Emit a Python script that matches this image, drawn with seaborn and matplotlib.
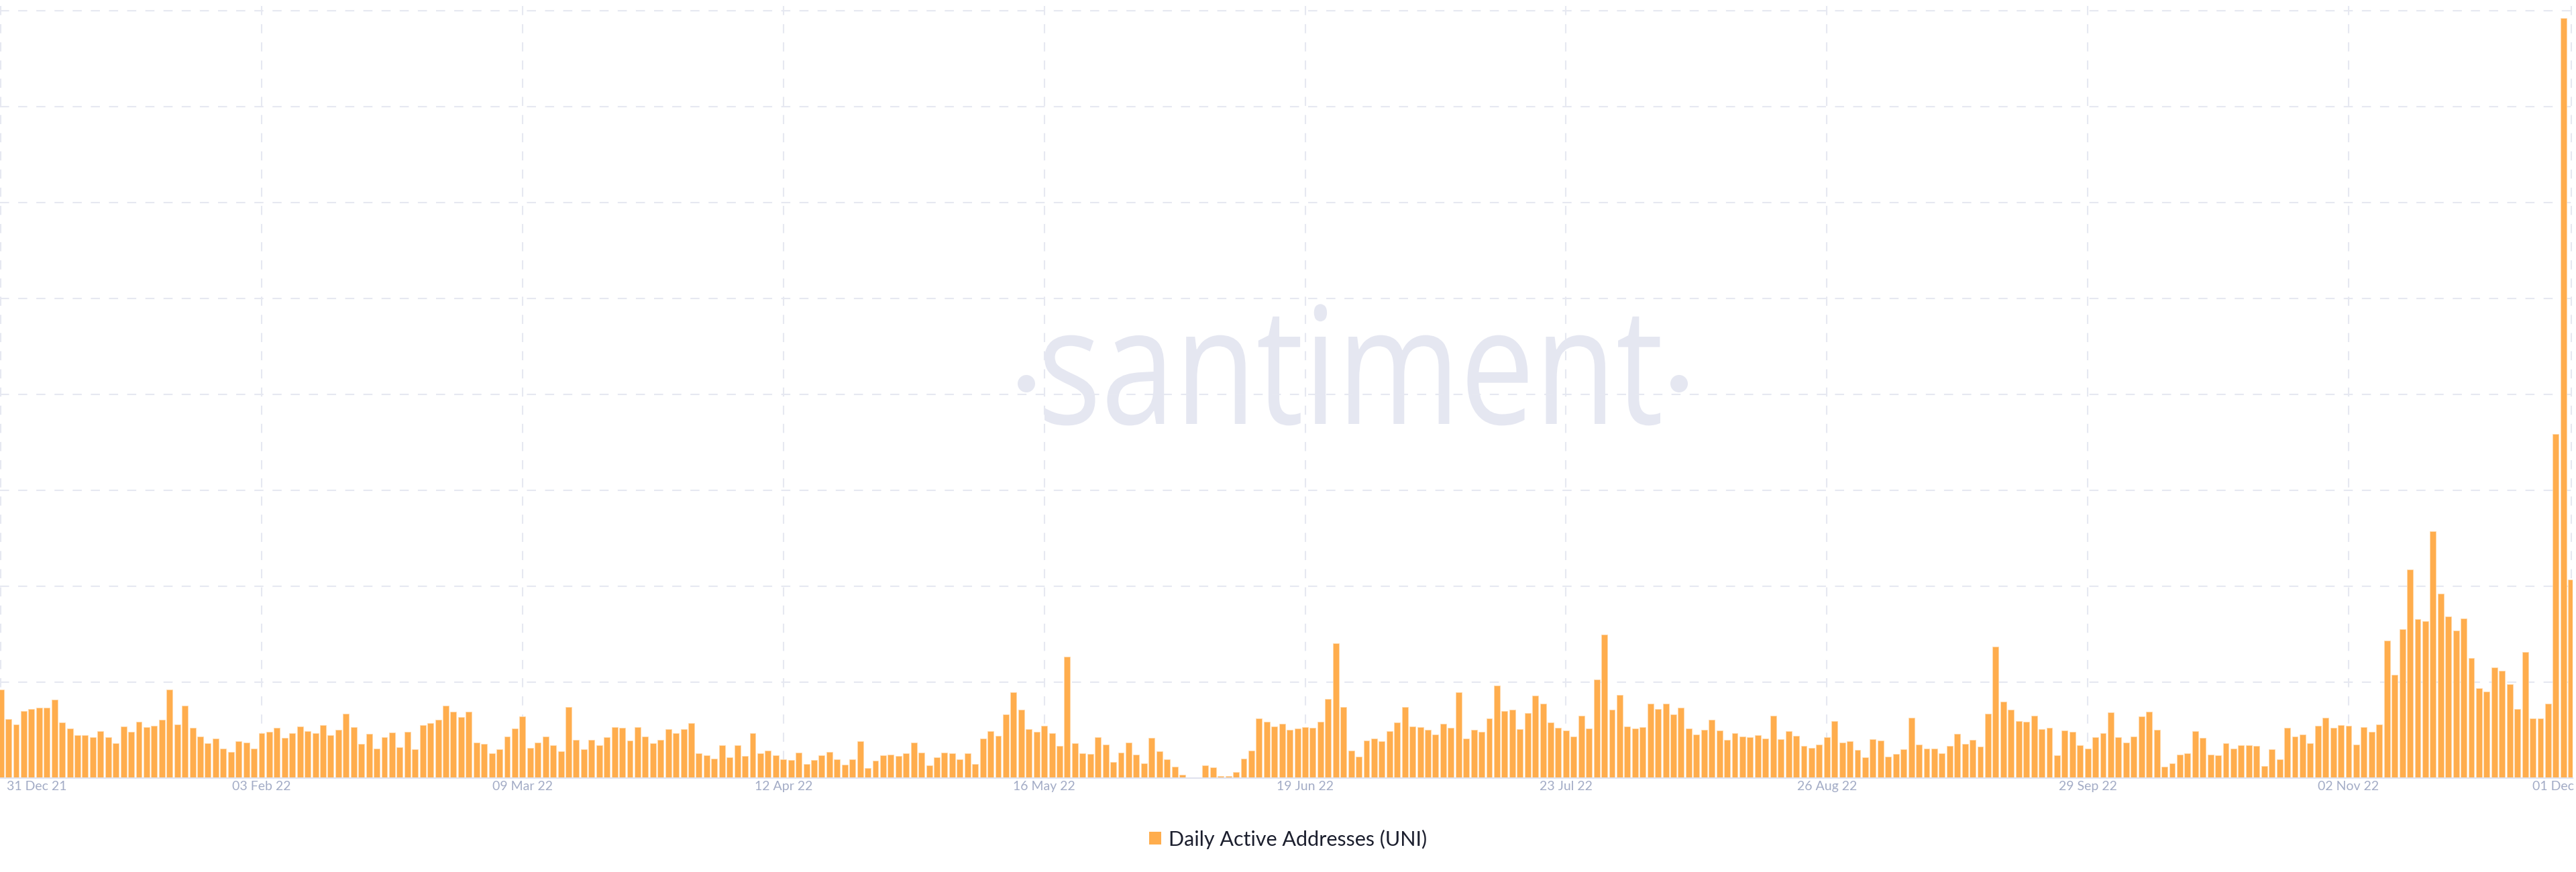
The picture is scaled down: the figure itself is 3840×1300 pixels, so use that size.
import pandas as pd
import numpy as np
import matplotlib
matplotlib.use("Agg")
import matplotlib.pyplot as plt
import matplotlib.transforms as mtransforms
from matplotlib.patches import PathPatch, Ellipse, Patch
from matplotlib.textpath import TextPath
from matplotlib.font_manager import FontProperties
import seaborn as sns

# daily active addresses (same scale throughout, grid step = 428)
start_date = "2021-12-31"
dau_dec21 = [394]
dau_jan22 = [264, 239, 298, 309, 315, 313, 350, 247, 222, 192, 191, 183, 210, 184, 156, 230,
             208, 252, 227, 234, 259, 394, 239, 324, 225, 186, 155, 177, 132, 117, 165]
dau_feb22 = [160, 132, 201, 207, 224, 180, 202, 231, 209, 202, 237, 192, 216, 287, 227, 152,
             197, 133, 184, 203, 137, 206, 128, 237, 244, 259, 322, 296]
dau_mar22 = [273, 296, 159, 153, 111, 129, 186, 221, 276, 136, 159, 186, 147, 121, 317, 170,
             130, 170, 148, 182, 228, 224, 169, 227, 186, 155, 170, 219, 201, 219, 246]
dau_apr22 = [111, 102, 86, 146, 94, 146, 100, 200, 110, 123, 103, 84, 82, 114, 63, 80,
             102, 116, 83, 61, 84, 165, 46, 78, 102, 106, 99, 111, 160, 114]
dau_may22 = [57, 92, 113, 112, 84, 111, 63, 176, 209, 189, 284, 383, 306, 217, 208, 233,
             200, 144, 543, 155, 111, 107, 182, 150, 71, 114, 160, 106, 66, 179, 121]
dau_jun22 = [83, 50, 16, 3, 0, 57, 47, 8, 8, 27, 86, 123, 267, 251, 231, 242,
             215, 221, 228, 224, 252, 353, 602, 317, 124, 96, 168, 178, 165, 210]
dau_jul22 = [249, 318, 230, 228, 216, 195, 242, 224, 384, 176, 216, 207, 266, 413, 299, 305,
             218, 289, 368, 333, 247, 225, 213, 187, 279, 222, 440, 640, 306, 372, 230]
dau_aug22 = [220, 227, 333, 309, 333, 284, 313, 222, 196, 216, 261, 214, 171, 201, 187, 183,
             193, 177, 279, 173, 211, 188, 144, 134, 150, 182, 255, 160, 165, 126, 93]
dau_sep22 = [174, 169, 96, 107, 129, 269, 149, 132, 131, 110, 143, 199, 153, 170, 140, 287,
             588, 341, 306, 255, 250, 279, 219, 224, 101, 212, 208, 146, 132, 183]
dau_oct22 = [200, 294, 182, 158, 186, 276, 297, 216, 52, 65, 105, 111, 211, 181, 106, 103,
             155, 131, 148, 148, 144, 54, 129, 85, 224, 187, 196, 155, 232, 270, 225]
dau_nov22 = [235, 234, 151, 227, 207, 240, 613, 461, 664, 930, 708, 701, 1102, 822, 720, 659,
             712, 536, 402, 386, 495, 478, 418, 308, 562, 266, 265, 332, 1536, 3390]
dau_dec22 = [886]

tick_dates = ["2021-12-31", "2022-02-03", "2022-03-09", "2022-04-12", "2022-05-16", "2022-06-19",
              "2022-07-23", "2022-08-26", "2022-09-29", "2022-11-02", "2022-12-01"]
tick_labels = ["31 Dec 21", "03 Feb 22", "09 Mar 22", "12 Apr 22", "16 May 22", "19 Jun 22",
               "23 Jul 22", "26 Aug 22", "29 Sep 22", "02 Nov 22", "01 Dec"]
legend_label = "Daily Active Addresses (UNI)"

values = (dau_dec21 + dau_jan22 + dau_feb22 + dau_mar22 + dau_apr22 + dau_may22 + dau_jun22
          + dau_jul22 + dau_aug22 + dau_sep22 + dau_oct22 + dau_nov22 + dau_dec22)
dates = pd.date_range(start_date, periods=len(values), freq="D")
df = pd.DataFrame({"date": dates, "dau": values})
df["day"] = (df["date"] - pd.Timestamp(start_date)).dt.days
tick_pos = [(pd.Timestamp(d) - pd.Timestamp(start_date)).days for d in tick_dates]

BAR = "#ffad4d"
GRID = "#e6e8f1"
GRID_STEP = 428

sns.set_style("white")
plt.rcParams["font.family"] = ["Lato", "DejaVu Sans"]

W, H = 3840, 1300
fig = plt.figure(figsize=(W / 100, H / 100), dpi=100, facecolor="white")
ax = fig.add_axes([0, 140 / H, 3835 / W, 1160 / H])
ax.set_facecolor("none")

sns.barplot(data=df, x="day", y="dau", native_scale=True, color=BAR, saturation=1,
            width=0.78, errorbar=None, edgecolor="#ffd9ab", linewidth=0.6, ax=ax, zorder=2)

ax.set_xlim(-0.1, 335.2)
ax.set_ylim(0, 1160 * GRID_STEP / 143)
ax.set_yticks(np.arange(1, 9) * GRID_STEP)
ax.set_xticks(tick_pos, tick_labels)
ax.tick_params(axis="x", length=0, pad=3, labelsize=14, labelcolor="#a3acc6")
ax.tick_params(axis="y", length=0, labelleft=False)
ax.set_xlabel("")
ax.set_ylabel("")
ax.set_axisbelow(True)
ax.grid(True, color=GRID, linewidth=1.5, linestyle=(0, (6.5, 6.5)))
for s in ["top", "right", "left"]:
    ax.spines[s].set_visible(False)
ax.spines["bottom"].set_color("#dfe2ee")
ax.spines["bottom"].set_linewidth(1.5)

# first and last labels are pulled inside the chart edges
labels = ax.get_xticklabels()
labels[0].set_ha("left")
labels[0].set_transform(labels[0].get_transform()
                        + mtransforms.ScaledTranslation(0.09, 0, fig.dpi_scale_trans))
labels[-1].set_ha("right")
labels[-1].set_transform(labels[-1].get_transform()
                         + mtransforms.ScaledTranslation(0.04, 0, fig.dpi_scale_trans))

# santiment watermark
tp = TextPath((0, 0), "santiment", size=100, prop=FontProperties(family="Open Sans"))
ext = tp.get_extents()
sx = 918 / ext.width
sy = 130 / 53.5
wm_tr = (mtransforms.Affine2D().scale(sx, sy).translate(1557 - ext.x0 * sx, H - 632)
         .scale(1 / W, 1 / H) + fig.transFigure)
fig.add_artist(PathPatch(tp, transform=wm_tr, facecolor="#e5e7f1", edgecolor="none", zorder=-1))
for cx in [1530, 2503]:
    fig.add_artist(Ellipse((cx / W, (H - 572) / H), 26 / W, 26 / H, transform=fig.transFigure,
                           facecolor="#e5e7f1", edgecolor="none", zorder=-1))

handle = Patch(facecolor=BAR, edgecolor="none")
fig.legend([handle], [legend_label], loc="center", bbox_to_anchor=(0.5, 1 - 1251 / H),
           frameon=False, fontsize=22, labelcolor="#1c1f2e", handlelength=0.6,
           handleheight=0.6, handletextpad=0.35)

fig.savefig("out.png", dpi=100, facecolor="white")
